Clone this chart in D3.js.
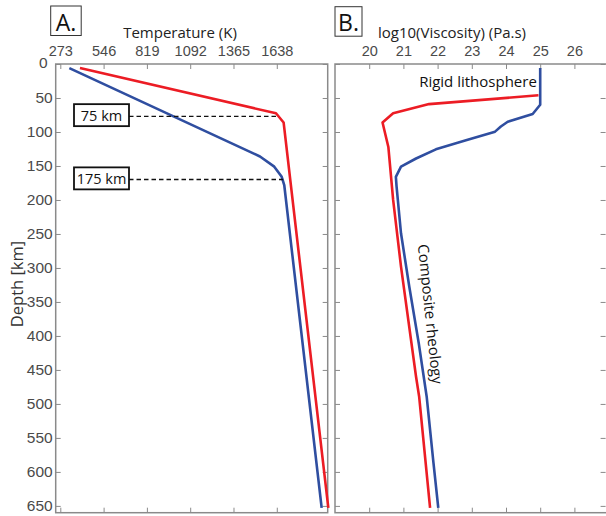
<!DOCTYPE html>
<html>
<head>
<meta charset="utf-8">
<script src="https://cdn.jsdelivr.net/npm/d3@7"></script>
<style>
  html, body { margin: 0; padding: 0; background: #fff; }
  svg { display: block; }
</style>
</head>
<body>
<svg id="chart" width="606" height="516"></svg>
<script>
// ---------- data ----------
const depthTicks = [0, 50, 100, 150, 200, 250, 300, 350, 400, 450, 500, 550, 600, 650];
const tempTicks = [273, 546, 819, 1092, 1365, 1638];
const viscTicks = [20, 21, 22, 23, 24, 25, 26];

// Panel A: temperature profiles
const redA_depth = [6, 72.5, 86, 653];
const redA_temp  = [397, 1633, 1681, 1963];
const blueA_depth = [6, 136, 151, 166, 178, 653];
const blueA_temp  = [330, 1532, 1622, 1669, 1685, 1921];

// Annotations (panel A)
const annotDepth = [77, 170];
const annotLabel = ["75 km", "175 km"];
const annotEndTemp = [1646, 1678];

// Panel B: viscosity profiles
const redB_depth = [46, 59, 72.5, 86, 122, 200, 298, 460, 489, 653];
const redB_visc  = [24.95, 21.75, 20.7, 20.39, 20.56, 20.7, 20.93, 21.37, 21.46, 21.78];
const blueB_depth = [6, 60, 73.5, 85, 92, 99.5, 112, 125.5, 139, 151, 166, 180, 249, 327, 411, 489, 587, 653];
const blueB_visc  = [25, 25, 24.78, 24.05, 23.85, 23.68, 22.83, 21.95, 21.37, 20.93, 20.78, 20.8, 20.93, 21.17, 21.45, 21.68, 21.88, 22.02];

// ---------- layout ----------
const RED = "#ec1c24", BLUE = "#2f4ea0", FRAME = "#8a8a8a", TICKTXT = "#4a4a4a";
const yTop = 64, yBot = 512.7;
const aL = 55.7, aR = 327.7, bL = 335, bR = 608.6;

const svg = d3.select("#chart");
const y = d3.scaleLinear().domain([0, 660]).range([yTop, yBot]);
const xA = d3.scaleLinear().domain([244, 1959]).range([aL, aR]);
const xB = d3.scaleLinear().domain([19, 27]).range([bL, bR]);
const fmt = d3.format("d");

function styleAxis(g, fs) {
  g.select(".domain").remove();
  g.selectAll(".tick line").attr("stroke", FRAME).attr("stroke-width", 1);
  g.selectAll(".tick text").attr("fill", TICKTXT)
    .style("font-family", "'Liberation Sans', Arial, sans-serif")
    .style("font-size", fs + "px");
}

// Panel A axes
svg.append("g").attr("transform", `translate(0,${yTop})`)
  .call(d3.axisTop(xA).tickValues(tempTicks).tickFormat(fmt).tickSize(-5).tickPadding(8))
  .call(g => styleAxis(g, 14.5));
svg.append("g").attr("transform", `translate(0,${yBot})`)
  .call(d3.axisBottom(xA).tickValues(tempTicks).tickSize(-5).tickFormat(""))
  .call(g => styleAxis(g, 14));
svg.append("g").attr("transform", `translate(${aL},0)`)
  .call(d3.axisLeft(y).tickValues(depthTicks).tickFormat(fmt).tickSize(-5).tickPadding(3))
  .call(g => styleAxis(g, 15.5))
  .call(g => g.selectAll(".tick text").filter(d => d === 0).attr("x", -8).attr("dy", "0.2em"));
svg.append("g").attr("transform", `translate(${aR},0)`)
  .call(d3.axisRight(y).tickValues(depthTicks).tickSize(-5).tickFormat(""))
  .call(g => styleAxis(g, 14));

// Panel B axes
svg.append("g").attr("transform", `translate(0,${yTop})`)
  .call(d3.axisTop(xB).tickValues(viscTicks).tickFormat(fmt).tickSize(-5).tickPadding(8))
  .call(g => styleAxis(g, 14.5));
svg.append("g").attr("transform", `translate(0,${yBot})`)
  .call(d3.axisBottom(xB).tickValues(viscTicks).tickSize(-5).tickFormat(""))
  .call(g => styleAxis(g, 14));
svg.append("g").attr("transform", `translate(${bL},0)`)
  .call(d3.axisLeft(y).tickValues(depthTicks).tickSize(-5).tickFormat(""))
  .call(g => styleAxis(g, 14));
svg.append("g").attr("transform", `translate(${bR - 3},0)`)
  .call(d3.axisRight(y).tickValues(depthTicks).tickSize(-5).tickFormat(""))
  .call(g => styleAxis(g, 14));

// Frames
svg.append("rect").attr("x", aL).attr("y", yTop).attr("width", aR - aL).attr("height", yBot - yTop)
  .attr("fill", "none").attr("stroke", FRAME).attr("stroke-width", 1.5);
svg.append("rect").attr("x", bL).attr("y", yTop).attr("width", bR - bL).attr("height", yBot - yTop)
  .attr("fill", "none").attr("stroke", FRAME).attr("stroke-width", 1.5);

// Lines
const lineA = d3.line().x(d => xA(d[0])).y(d => y(d[1]));
const lineB = d3.line().x(d => xB(d[0])).y(d => y(d[1]));
function draw(gen, xs, ds, color) {
  svg.append("path").datum(xs.map((v, i) => [v, ds[i]]))
    .attr("d", gen).attr("fill", "none").attr("stroke", color)
    .attr("stroke-width", 2.6).attr("stroke-linejoin", "round");
}
draw(lineA, blueA_temp, blueA_depth, BLUE);
draw(lineA, redA_temp, redA_depth, RED);
draw(lineB, blueB_visc, blueB_depth, BLUE);
draw(lineB, redB_visc, redB_depth, RED);

// Annotations in panel A
const boxX = 74, boxW = 55, boxH = 22;
annotDepth.forEach((d, i) => {
  const yy = y(d);
  svg.append("line").attr("x1", boxX + boxW).attr("x2", xA(annotEndTemp[i]))
    .attr("y1", yy).attr("y2", yy).attr("stroke", "#111")
    .attr("stroke-width", 1.4).attr("stroke-dasharray", "4.5,3");
  svg.append("rect").attr("x", boxX).attr("y", yy - boxH / 2 - 1.2)
    .attr("width", boxW).attr("height", boxH)
    .attr("fill", "#fff").attr("stroke", "#111").attr("stroke-width", 1.8);
  svg.append("text").attr("x", boxX + boxW / 2).attr("y", yy - 1.2)
    .attr("text-anchor", "middle").attr("dominant-baseline", "central")
    .style("font-family", "'Open Sans', 'Noto Sans', sans-serif").style("font-size", "14.5px")
    .attr("fill", "#111").text(annotLabel[i]);
});

// Titles
const titleFont = "'Open Sans', 'Noto Sans', sans-serif";
svg.append("text").attr("x", 180).attr("y", 31.5).attr("text-anchor", "middle")
  .attr("dominant-baseline", "central").style("font-family", titleFont).style("font-size", "15px")
  .attr("fill", "#222").text("Temperature (K)");
svg.append("text").attr("x", 452).attr("y", 31.5).attr("text-anchor", "middle")
  .attr("dominant-baseline", "central").style("font-family", titleFont).style("font-size", "15px")
  .attr("fill", "#222").text("log10(Viscosity) (Pa.s)");
svg.append("text").attr("transform", "translate(16,284) rotate(-90)").attr("text-anchor", "middle")
  .attr("dominant-baseline", "central").style("font-family", titleFont).style("font-size", "16.5px")
  .attr("fill", "#333").text("Depth [km]");

// Panel letters
[["A.", 50.7, 6, 30.5], ["B.", 335, 6.7, 27]].forEach(([t, x0, y0, w]) => {
  svg.append("rect").attr("x", x0).attr("y", y0).attr("width", w).attr("height", 29.5)
    .attr("fill", "#fff").attr("stroke", "#333").attr("stroke-width", 1);
  svg.append("text").attr("x", x0 + w / 2).attr("y", y0 + 15.5).attr("text-anchor", "middle")
    .attr("dominant-baseline", "central").style("font-family", titleFont).style("font-size", "23px")
    .attr("fill", "#111").text(t);
});

// Panel B labels
svg.append("text").attr("x", 478).attr("y", 81).attr("text-anchor", "middle")
  .attr("dominant-baseline", "central").style("font-family", titleFont).style("font-size", "15px")
  .attr("fill", "#111").text("Rigid lithosphere");
svg.append("text").attr("transform", "translate(431,314) rotate(84)").attr("text-anchor", "middle")
  .attr("dominant-baseline", "central").style("font-family", titleFont).style("font-size", "15px")
  .attr("fill", "#111").text("Composite rheology");
</script>
</body>
</html>
